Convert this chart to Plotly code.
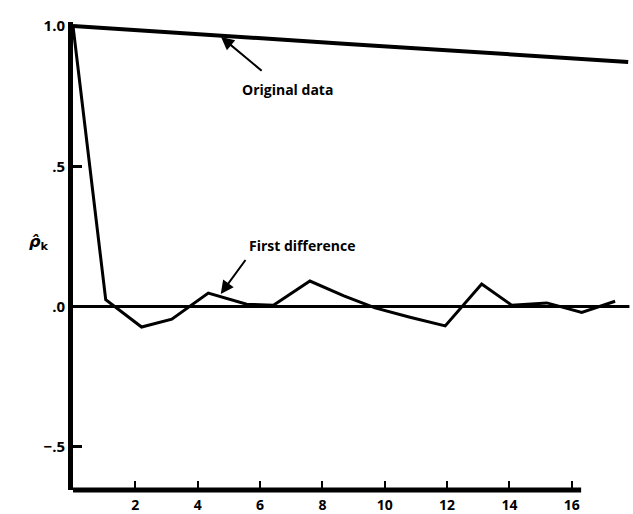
import plotly.graph_objects as go

# Lag positions (axis units)
lag_x = [0.0, 1.05, 2.20, 3.17, 4.34, 5.57, 6.43, 7.60, 8.69, 9.69,
         10.81, 11.94, 13.11, 14.07, 15.20, 16.32, 17.39]
first_diff = [1.0, 0.024, -0.073, -0.045, 0.048, 0.008, 0.005, 0.091, 0.038,
              -0.005, -0.038, -0.069, 0.080, 0.005, 0.013, -0.021, 0.019]

orig_x = lag_x + [17.81]
original = [1.000, 0.992, 0.984, 0.977, 0.969, 0.960, 0.954, 0.945, 0.937,
            0.930, 0.922, 0.914, 0.906, 0.899, 0.891, 0.882, 0.875, 0.872]

x_ticks = [2, 4, 6, 8, 10, 12, 14, 16]
y_ticks = [1.0, 0.5, 0.0, -0.5]
y_tick_text = ["1.0", ".5", ".0", "\u2212.5"]

X_MAX = 17.9
Y_MIN, Y_MAX = -0.654, 1.0143
X_AXIS_END = 16.3

FONT = "Open Sans"

fig = go.Figure()
fig.add_trace(go.Scatter(x=orig_x, y=original, mode="lines", name="Original data",
                         line=dict(color="black", width=4), hoverinfo="skip"))
fig.add_trace(go.Scatter(x=lag_x, y=first_diff, mode="lines", name="First difference",
                         line=dict(color="black", width=3), hoverinfo="skip"))

# zero reference line
fig.add_shape(type="line", xref="x", yref="y", x0=0, x1=X_MAX - 0.05, y0=0, y1=0,
              line=dict(color="black", width=3))
# bottom axis line (ends at 16.3)
fig.add_shape(type="line", xref="x", yref="paper", x0=-0.07, x1=X_AXIS_END, y0=0, y1=0,
              line=dict(color="black", width=5))

# labels
fig.add_annotation(x=6.87, y=0.772, xref="x", yref="y", text="Original data",
                   showarrow=False, font=dict(family=FONT, size=14, color="black", weight="bold"))
fig.add_annotation(x=7.35, y=0.219, xref="x", yref="y", text="First difference",
                   showarrow=False, font=dict(family=FONT, size=14, color="black", weight="bold"))

# pointer arrows (tail -> tip)
for (tx, ty), (hx, hy) in [((6.10, 0.836), (4.75, 0.961)),
                           ((5.58, 0.173), (4.74, 0.045))]:
    fig.add_annotation(x=hx, y=hy, ax=tx, ay=ty, xref="x", yref="y", axref="x", ayref="y",
                       text=" ", showarrow=True, arrowhead=2, arrowsize=1.3, arrowwidth=2,
                       arrowcolor="black", standoff=0, font=dict(size=1))

fig.add_annotation(x=-0.0824, y=0.528, xref="paper", yref="paper",
                   text="<b><i>\u03c1\u0302</i><sub>k</sub></b>", showarrow=False,
                   font=dict(family="DejaVu Sans", size=16, color="black"))

fig.update_xaxes(range=[0, X_MAX], tickvals=x_ticks, ticktext=[str(t) for t in x_ticks],
                 ticks="inside", ticklen=9, tickwidth=2, tickcolor="black",
                 showline=False, showgrid=False, zeroline=False, automargin=False,
                 ticklabelstandoff=5,
                 tickfont=dict(family=FONT, size=14, color="black", weight="bold"))
fig.update_yaxes(range=[Y_MIN, Y_MAX], tickvals=y_ticks, ticktext=y_tick_text,
                 ticks="inside", ticklen=9, tickwidth=2.5, tickcolor="black",
                 showline=True, linewidth=5, linecolor="black", automargin=False,
                 showgrid=False, zeroline=False, ticklabelstandoff=0,
                 tickfont=dict(family=FONT, size=15, color="black", weight="bold"))

fig.update_layout(width=633, height=514, margin=dict(l=73, r=2, t=22, b=24),
                  paper_bgcolor="white", plot_bgcolor="white", showlegend=False)

fig.write_html("out.html", config={"displayModeBar": False},
               post_script="document.body.style.margin='0';document.body.style.overflow='hidden';")
